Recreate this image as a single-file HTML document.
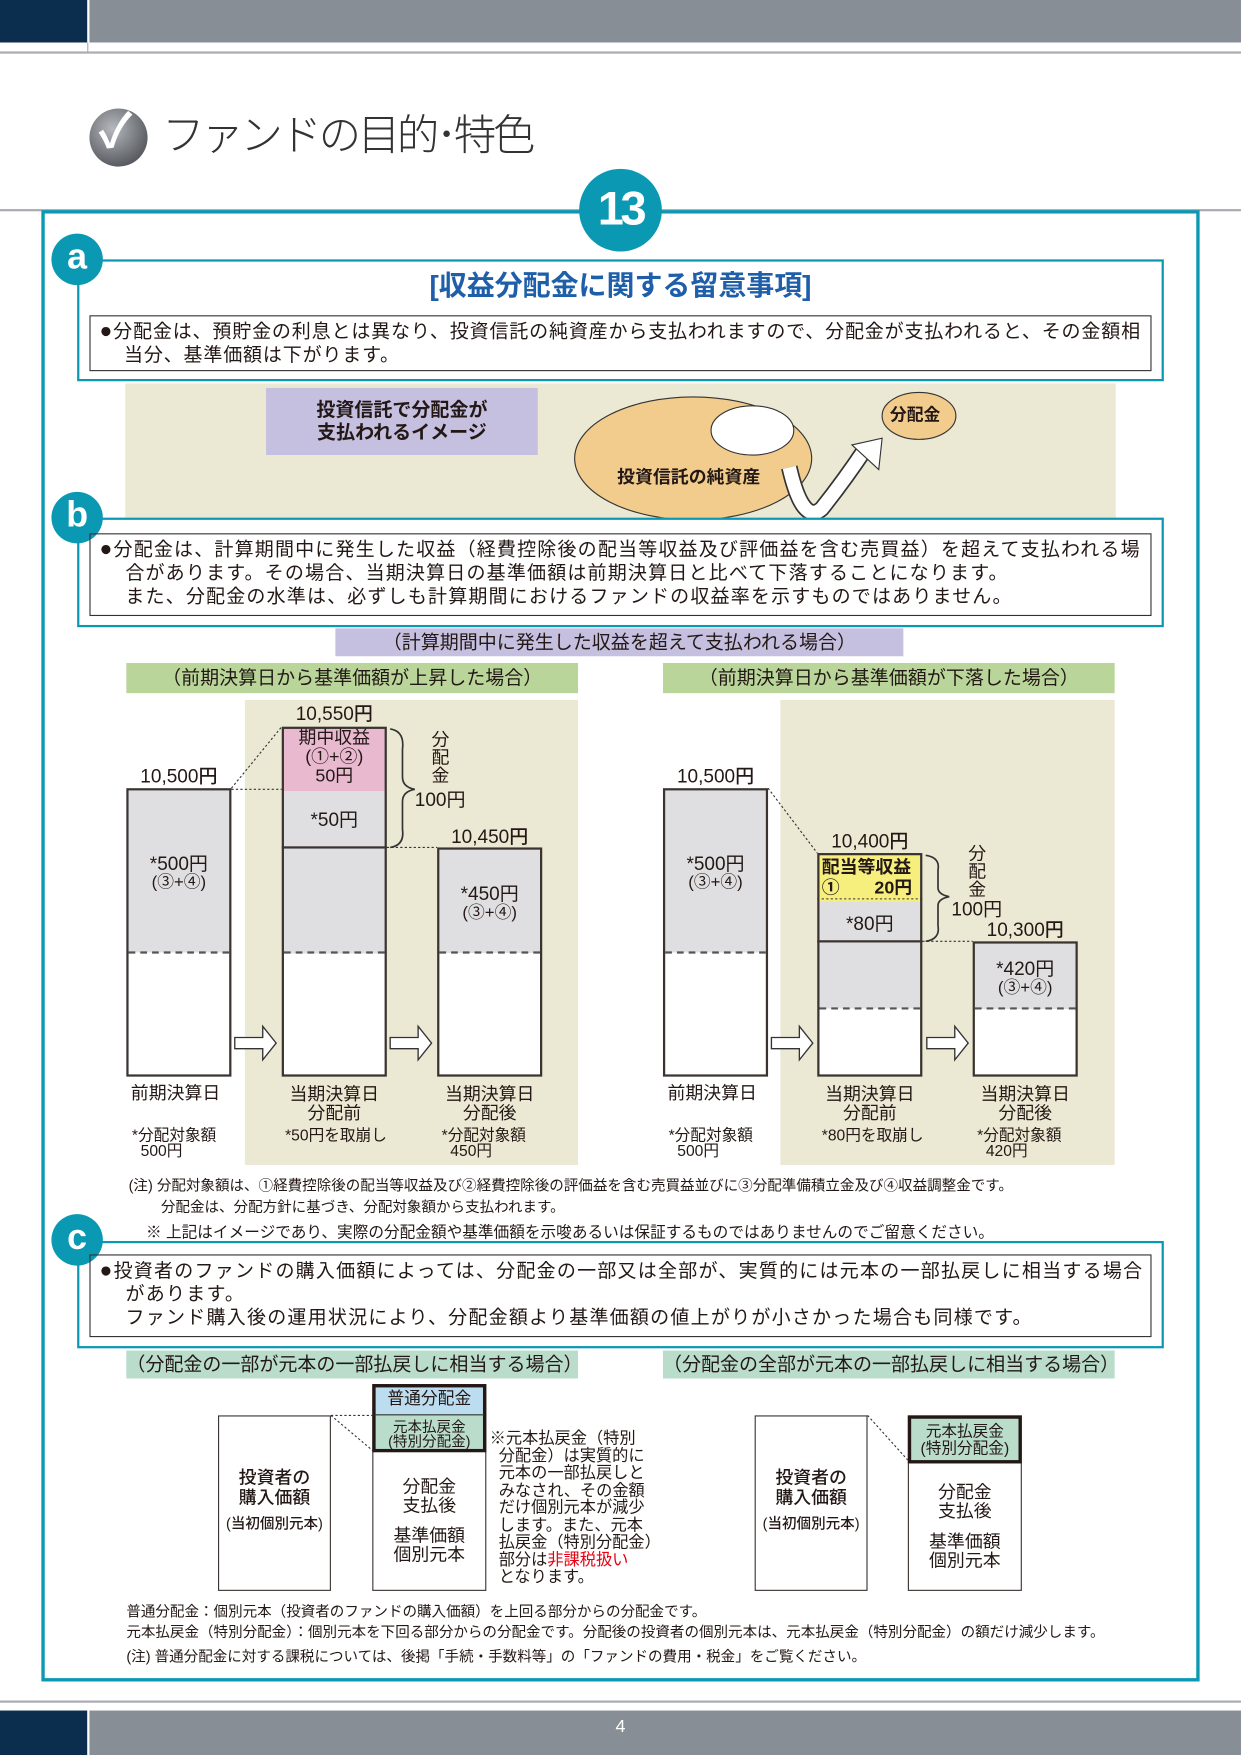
<!DOCTYPE html>
<html><head><meta charset="utf-8">
<style>
*{margin:0;padding:0;box-sizing:border-box}
body{width:1241px;height:1755px;overflow:hidden;background:#fff;font-family:"Liberation Sans","Noto Sans CJK JP",sans-serif;color:#231815}
#w{position:absolute;left:0;top:0;width:1110px;height:1570px;transform:scale(1.118);transform-origin:0 0}
.a{position:absolute}
.t{position:absolute;white-space:nowrap;line-height:1}
.c{text-align:center}
.teal{background:#0a98b3}
.badge{position:absolute;width:46px;height:46px;border-radius:50%;background:#0a98b3;color:#fff;font-size:32px;text-align:center;line-height:40px;font-weight:bold}
.box{position:absolute;border:2px solid #0a98b3;background:#fff}
.ib{position:absolute;border:1.5px solid #333;font-size:17px;line-height:21px;padding:3px 0 0 8px;white-space:nowrap}
.ib b{font-size:19px;font-weight:normal}
.bar{position:absolute;border:2px solid #3a3330;background:#fff}
.lab{font-size:17px;font-weight:500}
.ch{position:absolute;font-size:17px;text-align:center;line-height:25px}
</style></head><body><div id="w">
<div class="a" style="left:0;top:0;width:78px;height:38px;background:#0b2d4e"></div>
<div class="a" style="left:80px;top:0;width:1030px;height:38px;background:#878e96"></div>
<div class="a" style="left:0;top:46px;width:1110px;height:2px;background:#a9adb2"></div>
<div class="a" style="left:78px;top:38px;width:1px;height:9px;background:#a9adb2"></div>
<div class="a" style="left:80px;top:97px;width:52px;height:52px;border-radius:50%;background:radial-gradient(circle at 40% 35%,#b5b9bd,#5d6166 70%,#3d4145)"></div>
<div class="t" style="left:88px;top:97px;font-size:42px;color:#fff;font-weight:bold">✓</div>
<div class="t" style="left:145px;top:103px;font-size:38px;font-weight:300;color:#333;letter-spacing:-3px">ファンドの目的･特色</div>
<div class="a" style="left:0;top:187px;width:1110px;height:2px;background:#a9adb2"></div>
<div class="a" style="left:37px;top:188px;width:1036px;height:1316px;border:3px solid #0a98b3"></div>
<div class="a teal" style="left:518px;top:151px;width:74px;height:74px;border-radius:50%"></div>
<div class="t" style="left:518px;top:166px;width:74px;text-align:center;color:#fff;font-size:42px;font-weight:bold;letter-spacing:-3px">13</div>
<div class="box" style="left:69px;top:232px;width:972px;height:109px"></div>
<div class="badge" style="left:46px;top:209px">a</div>
<div class="t" style="left:69px;top:244px;width:972px;text-align:center;font-size:25px;font-weight:bold;color:#1f5ea8">[収益分配金に関する留意事項]</div>
<div class="ib" style="left:80px;top:282px;width:950px;height:50px;letter-spacing:0.75px"><b>●</b>分配金は、預貯金の利息とは異なり、投資信託の純資産から支払われますので、分配金が支払われると、その金額相<br>&nbsp;&nbsp;&nbsp;&nbsp;当分、基準価額は下がります。</div>
<div class="a" style="left:112px;top:343px;width:886px;height:120px;background:#ebe8d3"></div>
<div class="a" style="left:238px;top:347px;width:243px;height:60px;background:#c5bfe0"></div>
<div class="t c" style="left:238px;top:357px;width:243px;font-size:17px;line-height:20px;font-weight:bold">投資信託で分配金が<br>支払われるイメージ</div>
<svg class="a" style="left:0;top:0" width="1110" height="500">
<ellipse cx="620" cy="410" rx="106" ry="55" fill="#f2cc8c" stroke="#333" stroke-width="1"/>
<ellipse cx="673" cy="385" rx="37" ry="22" fill="#fff" stroke="#333" stroke-width="1"/>
<ellipse cx="822" cy="372" rx="33" ry="21" fill="#f2cc8c" stroke="#333" stroke-width="1"/>
<path d="M706,418 Q718,470 735,455 Q755,430 775,400" fill="none" stroke="#333" stroke-width="15"/>
<path d="M706,418 Q718,470 735,455 Q755,430 775,400" fill="none" stroke="#fff" stroke-width="12"/>
<polygon points="762,398 789,392 786,420" fill="#fff" stroke="#333" stroke-width="1"/>
</svg>
<div class="t" style="left:552px;top:420px;font-size:16px;font-weight:bold">投資信託の純資産</div>
<div class="t" style="left:796px;top:364px;font-size:15px;font-weight:bold">分配金</div>
<div class="box" style="left:69px;top:463px;width:972px;height:98px"></div>
<div class="badge" style="left:46px;top:440px">b</div>
<div class="ib" style="left:80px;top:477px;width:950px;height:74px;letter-spacing:1.05px"><b>●</b>分配金は、計算期間中に発生した収益（経費控除後の配当等収益及び評価益を含む売買益）を超えて支払われる場<br>&nbsp;&nbsp;&nbsp;&nbsp;合があります。その場合、当期決算日の基準価額は前期決算日と比べて下落することになります。<br>&nbsp;&nbsp;&nbsp;&nbsp;また、分配金の水準は、必ずしも計算期間におけるファンドの収益率を示すものではありません。</div>
<div class="a" style="left:300px;top:562px;width:508px;height:25px;background:#c5bfe0"></div>
<div class="t c" style="left:300px;top:566px;width:508px;font-size:17px">（計算期間中に発生した収益を超えて支払われる場合）</div>
<div class="a" style="left:113px;top:593px;width:404px;height:27px;background:#b9d59a"></div>
<div class="t c" style="left:113px;top:598px;width:404px;font-size:17px">（前期決算日から基準価額が上昇した場合）</div>
<div class="a" style="left:593px;top:593px;width:404px;height:27px;background:#b9d59a"></div>
<div class="t c" style="left:593px;top:598px;width:404px;font-size:17px">（前期決算日から基準価額が下落した場合）</div>
<div class="a" style="left:219px;top:626px;width:298px;height:416px;background:#ebe8d3"></div>
<div class="a" style="left:698px;top:626px;width:299px;height:416px;background:#ebe8d3"></div>
<div class="bar" style="left:113px;top:705px;width:94px;height:258px;background:linear-gradient(#dfdfe1 0 57%,#fff 57%)"></div>
<div class="bar" style="left:252px;top:650px;width:94px;height:313px;background:linear-gradient(#e8b9cf 0 18%,#dfdfe1 18% 65%,#fff 65%)"></div>
<div class="a" style="left:252px;top:757px;width:94px;height:2px;background:#3a3330"></div>
<div class="bar" style="left:391px;top:758px;width:94px;height:205px;background:linear-gradient(#dfdfe1 0 46%,#fff 46%)"></div>
<div class="a" style="left:115px;top:851px;width:90px;border-top:2px dashed #555"></div>
<div class="a" style="left:254px;top:851px;width:90px;border-top:2px dashed #555"></div>
<div class="a" style="left:393px;top:851px;width:90px;border-top:2px dashed #555"></div>
<div class="bar" style="left:593px;top:705px;width:94px;height:258px;background:linear-gradient(#dfdfe1 0 57%,#fff 57%)"></div>
<div class="bar" style="left:731px;top:763px;width:94px;height:200px;background:linear-gradient(#f6ef7e 0 21%,#dfdfe1 21% 70%,#fff 70%)"></div>
<div class="a" style="left:731px;top:841px;width:94px;height:2px;background:#3a3330"></div>
<div class="bar" style="left:870px;top:842px;width:94px;height:121px;background:linear-gradient(#dfdfe1 0 50%,#fff 50%)"></div>
<div class="a" style="left:595px;top:851px;width:90px;border-top:2px dashed #555"></div>
<div class="a" style="left:733px;top:901px;width:90px;border-top:2px dashed #555"></div>
<div class="a" style="left:872px;top:901px;width:90px;border-top:2px dashed #555"></div>
<svg class="a" style="left:0;top:0" width="1110" height="1100">
<g stroke="#333" stroke-width="1" stroke-dasharray="2,2" fill="none">
<line x1="207" y1="705" x2="252" y2="650"/><line x1="207" y1="706" x2="252" y2="706"/><line x1="346" y1="758" x2="391" y2="758"/>
<line x1="687" y1="705" x2="731" y2="763"/><line x1="731" y1="804" x2="825" y2="804"/><line x1="825" y1="842" x2="870" y2="842"/>
</g>
<g stroke="#333" stroke-width="1.5" fill="none">
<path d="M349,652 Q362,654 360,670 L360,695 Q360,704 371,706 Q360,708 360,717 L360,742 Q362,756 349,758"/>
<path d="M828,765 Q841,767 839,778 L839,794 Q839,800 849,802 Q839,804 839,810 L839,828 Q841,840 828,842"/>
</g>
<g fill="#fff" stroke="#333" stroke-width="1.2">
<polygon points="210,928 235,928 235,918 247,933 235,948 235,938 210,938"/>
<polygon points="349,928 374,928 374,918 386,933 374,948 374,938 349,938"/>
<polygon points="690,928 715,928 715,918 727,933 715,948 715,938 690,938"/>
<polygon points="829,928 854,928 854,918 866,933 854,948 854,938 829,938"/>
</g>
</svg>
<div class="t lab" style="left:113px;top:686px;width:94px;text-align:center">10,500円</div>
<div class="t lab" style="left:252px;top:630px;width:94px;text-align:center">10,550円</div>
<div class="t lab" style="left:391px;top:740px;width:94px;text-align:center">10,450円</div>
<div class="ch" style="left:252px;top:652px;width:94px;line-height:17px;font-size:16px">期中収益<br>(①+②)<br>50円</div>
<div class="t c" style="left:252px;top:725px;width:94px;font-size:17px">*50円</div>
<div class="ch" style="left:113px;top:765px;width:94px;line-height:16px;font-size:17px">*500円<br><span style="font-size:15px">(③+④)</span></div>
<div class="ch" style="left:391px;top:792px;width:94px;line-height:16px;font-size:17px">*450円<br><span style="font-size:15px">(③+④)</span></div>
<div class="t" style="left:386px;top:655px;font-size:16px;line-height:16px;width:18px">分<br>配<br>金</div>
<div class="t" style="left:371px;top:707px;font-size:17px">100円</div>
<div class="t" style="left:117px;top:971px;font-size:16px">前期決算日</div>
<div class="ch" style="left:245px;top:971px;width:108px;line-height:17px;font-size:16px">当期決算日<br>分配前</div>
<div class="ch" style="left:384px;top:971px;width:108px;line-height:17px;font-size:16px">当期決算日<br>分配後</div>
<div class="t" style="left:118px;top:1008px;font-size:14px;line-height:14px">*分配対象額<br>&nbsp;&nbsp;500円</div>
<div class="t" style="left:255px;top:1008px;font-size:14px">*50円を取崩し</div>
<div class="t" style="left:395px;top:1008px;font-size:14px;line-height:14px">*分配対象額<br>&nbsp;&nbsp;450円</div>
<div class="t lab" style="left:593px;top:686px;width:94px;text-align:center">10,500円</div>
<div class="t lab" style="left:731px;top:744px;width:94px;text-align:center">10,400円</div>
<div class="t lab" style="left:870px;top:823px;width:94px;text-align:center">10,300円</div>
<div class="t" style="left:735px;top:768px;font-size:16px;font-weight:bold;line-height:18px">配当等収益<br>①&nbsp;&nbsp;&nbsp;&nbsp;&nbsp;&nbsp;&nbsp;20円</div>
<div class="t c" style="left:731px;top:818px;width:94px;font-size:17px">*80円</div>
<div class="ch" style="left:593px;top:765px;width:94px;line-height:16px;font-size:17px">*500円<br><span style="font-size:15px">(③+④)</span></div>
<div class="ch" style="left:870px;top:859px;width:94px;line-height:16px;font-size:17px">*420円<br><span style="font-size:15px">(③+④)</span></div>
<div class="t" style="left:866px;top:757px;font-size:16px;line-height:16px;width:18px">分<br>配<br>金</div>
<div class="t" style="left:851px;top:805px;font-size:17px">100円</div>
<div class="t" style="left:597px;top:971px;font-size:16px">前期決算日</div>
<div class="ch" style="left:724px;top:971px;width:108px;line-height:17px;font-size:16px">当期決算日<br>分配前</div>
<div class="ch" style="left:863px;top:971px;width:108px;line-height:17px;font-size:16px">当期決算日<br>分配後</div>
<div class="t" style="left:598px;top:1008px;font-size:14px;line-height:14px">*分配対象額<br>&nbsp;&nbsp;500円</div>
<div class="t" style="left:735px;top:1008px;font-size:14px">*80円を取崩し</div>
<div class="t" style="left:874px;top:1008px;font-size:14px;line-height:14px">*分配対象額<br>&nbsp;&nbsp;420円</div>
<div class="t" style="left:115px;top:1051px;font-size:13px;line-height:19px">(注) 分配対象額は、①経費控除後の配当等収益及び②経費控除後の評価益を含む売買益並びに③分配準備積立金及び④収益調整金です。<br>&nbsp;&nbsp;&nbsp;&nbsp;&nbsp;&nbsp;&nbsp;&nbsp;分配金は、分配方針に基づき、分配対象額から支払われます。</div>
<div class="t" style="left:115px;top:1095px;font-size:14px">&nbsp;&nbsp;&nbsp;&nbsp;※ 上記はイメージであり、実際の分配金額や基準価額を示唆あるいは保証するものではありませんのでご留意ください。</div>
<div class="box" style="left:69px;top:1110px;width:972px;height:96px"></div>
<div class="badge" style="left:46px;top:1086px">c</div>
<div class="ib" style="left:80px;top:1122px;width:950px;height:74px;letter-spacing:1.1px"><b>●</b>投資者のファンドの購入価額によっては、分配金の一部又は全部が、実質的には元本の一部払戻しに相当する場合<br>&nbsp;&nbsp;&nbsp;&nbsp;があります。<br>&nbsp;&nbsp;&nbsp;&nbsp;ファンド購入後の運用状況により、分配金額より基準価額の値上がりが小さかった場合も同様です。</div>
<div class="a" style="left:113px;top:1208px;width:404px;height:25px;background:#b9dccb"></div>
<div class="t c" style="left:113px;top:1212px;width:404px;font-size:17px">（分配金の一部が元本の一部払戻しに相当する場合）</div>
<div class="a" style="left:593px;top:1208px;width:404px;height:25px;background:#b9dccb"></div>
<div class="t c" style="left:593px;top:1212px;width:404px;font-size:17px">（分配金の全部が元本の一部払戻しに相当する場合）</div>
<div class="bar" style="left:195px;top:1266px;width:101px;height:157px;border-width:1.5px"></div>
<div class="ch" style="left:195px;top:1314px;width:101px;line-height:18px;font-size:16px;font-weight:500">投資者の<br>購入価額<br><span style="font-size:13px;line-height:26px">(当初個別元本)</span></div>
<div class="bar" style="left:333px;top:1238px;width:102px;height:185px;border-width:1.5px"></div>
<div class="a" style="left:333px;top:1238px;width:102px;height:61px;border:3px solid #231815;background:linear-gradient(#bcdcef 0 43%,#b9dccb 43%)"></div>
<div class="a" style="left:335px;top:1265px;width:98px;height:1px;background:#333"></div>
<div class="t c" style="left:333px;top:1244px;width:102px;font-size:15px">普通分配金</div>
<div class="ch" style="left:333px;top:1270px;width:102px;font-size:13px;line-height:13px">元本払戻金<br>(特別分配金)</div>
<div class="ch" style="left:333px;top:1322px;width:102px;font-size:16px;line-height:17px">分配金<br>支払後</div>
<div class="ch" style="left:333px;top:1366px;width:102px;font-size:16px;line-height:17px">基準価額<br>個別元本</div>
<svg class="a" style="left:0;top:0" width="1110" height="1570">
<g stroke="#333" stroke-width="1" stroke-dasharray="2,2" fill="none">
<line x1="296" y1="1266" x2="334" y2="1266"/><line x1="296" y1="1266" x2="334" y2="1298"/>
<line x1="776" y1="1266" x2="812" y2="1306"/>
</g></svg>
<div class="t" style="left:438px;top:1280px;font-size:14.5px;line-height:15.5px">※元本払戻金（特別<br>&nbsp;&nbsp;分配金）は実質的に<br>&nbsp;&nbsp;元本の一部払戻しと<br>&nbsp;&nbsp;みなされ、その金額<br>&nbsp;&nbsp;だけ個別元本が減少<br>&nbsp;&nbsp;します。また、元本<br>&nbsp;&nbsp;払戻金（特別分配金）<br>&nbsp;&nbsp;部分は<span style="color:#e60012">非課税扱い</span><br>&nbsp;&nbsp;となります。</div>
<div class="bar" style="left:675px;top:1266px;width:101px;height:157px;border-width:1.5px"></div>
<div class="ch" style="left:675px;top:1314px;width:101px;line-height:18px;font-size:16px;font-weight:500">投資者の<br>購入価額<br><span style="font-size:13px;line-height:26px">(当初個別元本)</span></div>
<div class="bar" style="left:812px;top:1266px;width:102px;height:157px;border-width:1.5px"></div>
<div class="a" style="left:812px;top:1266px;width:102px;height:43px;border:3px solid #231815;background:#b9dccb"></div>
<div class="ch" style="left:812px;top:1273px;width:102px;font-size:14px;line-height:15px">元本払戻金<br>(特別分配金)</div>
<div class="ch" style="left:812px;top:1327px;width:102px;font-size:16px;line-height:17px">分配金<br>支払後</div>
<div class="ch" style="left:812px;top:1371px;width:102px;font-size:16px;line-height:17px">基準価額<br>個別元本</div>
<div class="t" style="left:113px;top:1433px;font-size:13px;line-height:18px">普通分配金：個別元本（投資者のファンドの購入価額）を上回る部分からの分配金です。<br>元本払戻金（特別分配金）：個別元本を下回る部分からの分配金です。分配後の投資者の個別元本は、元本払戻金（特別分配金）の額だけ減少します。</div>
<div class="t" style="left:113px;top:1475px;font-size:13px">(注) 普通分配金に対する課税については、後掲「手続・手数料等」の「ファンドの費用・税金」をご覧ください。</div>
<div class="a" style="left:0;top:1521px;width:1110px;height:2px;background:#a9adb2"></div>
<div class="a" style="left:0;top:1530px;width:78px;height:40px;background:#0b2d4e"></div>
<div class="a" style="left:80px;top:1530px;width:1030px;height:40px;background:#878e96"></div>
<div class="t c" style="left:530px;top:1537px;width:50px;color:#fff;font-size:16px">4</div>
</div></body></html>
